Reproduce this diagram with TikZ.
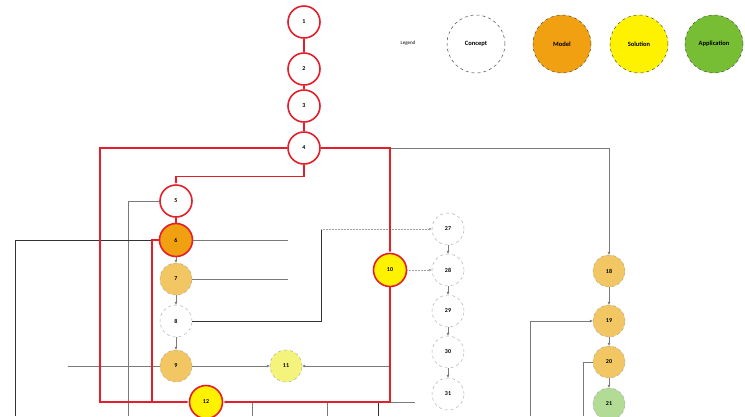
\documentclass[tikz,border=0pt]{standalone}
\usepackage{fontspec}
\setmainfont{Carlito}
\usetikzlibrary{arrows.meta}
\definecolor{cred}{HTML}{E41F2B}
\definecolor{corange}{HTML}{F0A010}
\definecolor{lorange}{HTML}{F2C763}
\definecolor{cyellow}{HTML}{FFF200}
\definecolor{lyellow}{HTML}{F4F47C}
\definecolor{cgreen}{HTML}{78BE35}
\definecolor{lgreen}{HTML}{B2DB95}
\definecolor{cgray}{HTML}{7A7A7A}
\begin{document}
\begin{tikzpicture}[x=1pt,y=-1pt,
  base/.style={circle,minimum size=32pt,inner sep=0pt,font=\fontsize{6}{7}\selectfont\bfseries},
  crit/.style={base,draw=cred,line width=1.6pt,fill=white},
  critfill/.style={base,draw=cred,line width=1.6pt,fill=#1,minimum size=33pt},
  soft/.style={base,draw=cgray!70,dashed,line width=0.4pt,fill=#1},
  leg/.style={circle,minimum size=58pt,inner sep=0pt,draw=black!70,dashed,line width=0.5pt,fill=#1,font=\fontsize{6.5}{7}\selectfont\bfseries},
  redl/.style={draw=cred,line width=1.3pt},
  grayl/.style={draw=cgray,line width=0.7pt},
  blackl/.style={draw=black!80,line width=0.9pt},
  dotl/.style={draw=cgray!70,line width=0.5pt,densely dotted},
  arr/.style={-{Latex[length=3pt,width=3pt]}}
]
\useasboundingbox[fill=white] (0,0) rectangle (745,416);

% legend
\node[font=\fontsize{5}{6}\selectfont] (legt) at (408,43) {Legend};
\node[leg=white] (lc) at (476,44) {Concept};
\node[leg=corange] (lm) at (562,44) {Model};
\node[leg=cyellow] (ls) at (639,44) {Solution};
\node[leg=cgreen] (la) at (714,44) {Application};

% nodes
\node[crit] (n1) at (304,22) {1};
\node[crit] (n2) at (304,69) {2};
\node[crit] (n3) at (304,106) {3};
\node[crit] (n4) at (304,148) {4};
\node[crit] (n5) at (176,201) {5};
\node[critfill=corange] (n6) at (176,240) {6};
\node[soft=lorange] (n7) at (176,279) {7};
\node[soft=white] (n8) at (176,321) {8};
\node[soft=lorange] (n9) at (176,366) {9};
\node[critfill=cyellow] (n10) at (390,270) {10};
\node[soft=lyellow] (n11) at (286,366) {11};
\node[critfill=cyellow] (n12) at (206,402) {12};
\node[soft=white] (n27) at (448,229) {27};
\node[soft=white] (n28) at (448,270) {28};
\node[soft=white] (n29) at (448,311) {29};
\node[soft=white] (n30) at (448,352) {30};
\node[soft=white] (n31) at (448,394) {31};
\node[soft=lorange] (n18) at (609,271) {18};
\node[soft=lorange] (n19) at (609,321) {19};
\node[soft=lorange] (n20) at (609,362) {20};
\node[soft=lgreen] (n21) at (609,404) {21};

\coordinate (b5) at (128,416);
\coordinate (b6) at (15,416);
\coordinate (e6) at (288,240);
\coordinate (e7) at (288,279);
\coordinate (t8) at (321,229);
\coordinate (w9) at (68,366);
\coordinate (b19) at (530,416);
\coordinate (b20) at (583,416);
\coordinate (j12) at (390,402);
\coordinate (r12) at (415,402);
\coordinate (v1) at (252,402);
\coordinate (v1b) at (252,416);
\coordinate (v2) at (327,402);
\coordinate (v2b) at (327,416);
\coordinate (v3) at (378,402);
\coordinate (v3b) at (378,416);
\coordinate (j11) at (390,366);

% gray connectors
\draw[grayl,arr] (n4.east) -| (n18.north);
\draw[grayl] (n5.west) -| (b5);
\draw[blackl] (n6.west) -| (b6);
\draw[grayl] (n6.east) -- (e6);
\draw[grayl] (n7.east) -- (e7);
\draw[blackl] (n8.east) -| (t8);
\draw[dotl,arr] (t8) -- (n27.west);
\draw[dotl,arr] (n10.east) -- (n28.west);
\draw[grayl] (w9) -- (n9.west);
\draw[grayl,arr] (n9.east) -- (n11.west);
\draw[grayl,arr] (j11) -- (n11.east);
\draw[grayl] (j12) -- (r12);
\draw[grayl] (v1) -- (v1b);
\draw[grayl] (v2) -- (v2b);
\draw[blackl] (v3) -- (v3b);
\draw[grayl,arr] (b19) |- (n19.west);
\draw[grayl] (n20.west) -| (b20);
\draw[grayl,arr] (n6) -- (n7);
\draw[grayl,arr] (n7) -- (n8);
\draw[grayl,arr] (n8) -- (n9);
\draw[grayl,arr] (n27) -- (n28);
\draw[grayl,arr] (n28) -- (n29);
\draw[grayl,arr] (n29) -- (n30);
\draw[grayl,arr] (n30) -- (n31);
\draw[grayl,arr] (n18) -- (n19);
\draw[grayl,arr] (n19) -- (n20);
\draw[grayl,arr] (n20) -- (n21);

% red connectors
\draw[redl] (n1) -- (n2);
\draw[redl] (n2) -- (n3);
\draw[redl] (n3) -- (n4);
\draw[redl,arr] (n4.west) -| (100,402) -- (n12.west);
\draw[redl,arr] (n4.east) -| (n10.north);
\draw[redl,arr] (n10.south) |- (n12.east);
\draw[redl,arr] (n4.south) -- ++(0,12) -| (n5.north);
\draw[redl] (n5) -- (n6);
\draw[redl] (n6.west) -| (152,402);
\end{tikzpicture}
\end{document}
